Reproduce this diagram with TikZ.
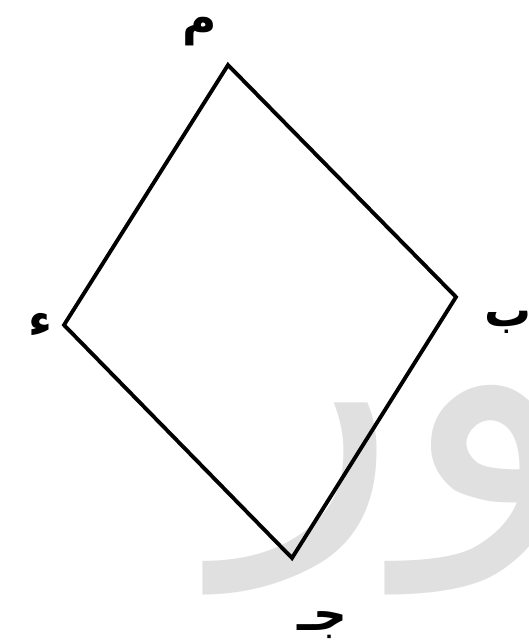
\documentclass[tikz,border=0pt]{standalone}
\usepackage{fontspec}
\newfontfamily\arabicfont[Script=Arabic]{DejaVu Sans}
\TeXXeTstate=1
\usetikzlibrary{positioning}
\tikzset{
  side/.style={line width=3.3pt, line join=miter},
  vlabel/.style={font=\arabicfont\bfseries\fontsize{40}{40}\selectfont, inner sep=0pt},
  mark wm/.style={text=black!12, font=\arabicfont\fontsize{320}{320}\selectfont, inner sep=0pt}
}
\begin{document}
\begin{tikzpicture}[x=0.03cm,y=-0.03cm]
\useasboundingbox (0,0) rectangle (528,644);
% background mark
\node[mark wm] (wm) at (400,490) {\beginR ور\endR};
% corners
\coordinate (A) at (228,65);
\coordinate (B) at (456,297);
\coordinate (C) at (292,558);
\coordinate (D) at (64,325);
\draw[side] (A) -- (B) -- (C) -- (D) -- cycle;
% corner names
\node[vlabel] (lA) at (200,32) {\beginR م\endR};
\node[vlabel] (lB) at (508,322) {\beginR ب\endR};
\node[vlabel] (lC) at (322,625) {\beginR جـ\endR};
\node[vlabel] (lD) at (40,325) {\beginR ء\endR};
\end{tikzpicture}
\end{document}
